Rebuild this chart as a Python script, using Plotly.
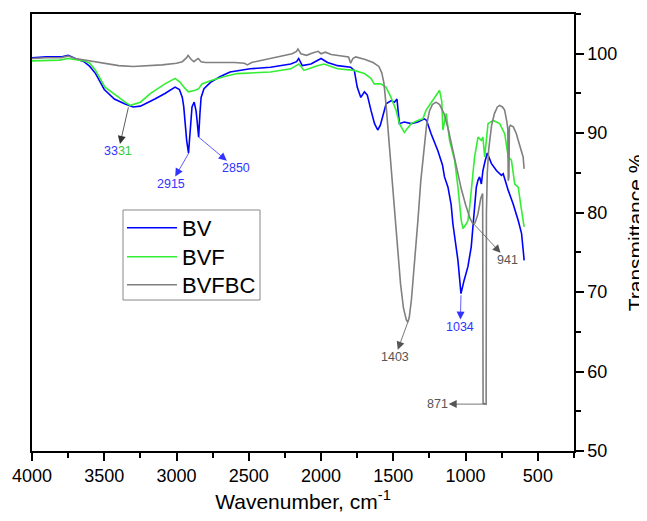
import plotly.graph_objects as go

# ---- data (wavenumber cm-1, transmittance %) ----
bv_x = [4000, 3900, 3800, 3750, 3700, 3640, 3600, 3560, 3500, 3430, 3360, 3300, 3250, 3200, 3150,
        3080, 3010, 2980, 2960, 2950, 2930, 2917, 2905, 2893, 2878, 2865, 2858, 2847, 2838, 2830,
        2810, 2765, 2700, 2630, 2490, 2350, 2210, 2170, 2155, 2130, 2070, 2025, 2000, 1955, 1885,
        1795, 1770, 1750, 1725, 1700, 1680, 1655, 1630, 1608, 1590, 1575, 1550, 1515, 1493, 1475,
        1458, 1425, 1377, 1330, 1285, 1270, 1250, 1238, 1192, 1160, 1146, 1122, 1100, 1088, 1053,
        1032, 1010, 984, 961, 945, 926, 914, 903, 891, 880, 865, 850, 822, 787, 752, 740, 705,
        671, 636, 613, 600, 595]
bv_y = [99.5, 99.6, 99.6, 99.8, 99.4, 99.0, 98.4, 97.5, 95.5, 94.3, 93.7, 93.3, 93.4, 93.8, 94.3,
        95.0, 95.8, 95.5, 94.5, 93.3, 89.1, 87.5, 90.5, 93.3, 93.9, 92.8, 91.6, 89.5, 92.5, 94.5,
        95.6, 96.4, 97.1, 97.7, 98.1, 98.3, 98.7, 99.0, 99.4, 98.5, 98.7, 99.2, 99.4, 98.9, 98.5,
        98.3, 97.9, 95.8, 94.5, 95.2, 94.8, 92.9, 91.2, 90.4, 91.0, 92.0, 93.7, 94.1, 93.9, 94.3,
        91.2, 91.4, 91.2, 91.4, 91.8, 91.6, 90.4, 89.9, 87.8, 86.0, 84.5, 83.2, 81.0, 78.6, 74.0,
        69.8, 71.5, 73.2, 75.7, 79.0, 83.2, 84.1, 84.5, 83.6, 85.3, 86.5, 87.5, 86.2, 85.3, 84.7, 84.9, 82.8,
        81.1, 79.0, 77.4, 75.0, 74.0]

bvf_x = [4000, 3900, 3810, 3750, 3640, 3600, 3560, 3495, 3425, 3355, 3320, 3250, 3180, 3080, 3010,
         2975, 2940, 2917, 2870, 2847, 2824, 2766, 2674, 2580, 2350, 2210, 2153, 2118, 2025, 1980,
         1886, 1771, 1700, 1655, 1632, 1586, 1551, 1516, 1481, 1458, 1424, 1377, 1331, 1296, 1273,
         1238, 1204, 1180, 1165, 1157, 1134, 1111, 1076, 1053, 1030, 1018, 995, 984, 972, 938, 914,
         891, 880, 868, 845, 810, 764, 729, 705, 683, 660, 636, 613, 595]
bvf_y = [99.1, 99.2, 99.2, 99.4, 99.1, 98.8, 97.9, 95.8, 94.8, 93.9, 93.5, 93.9, 95.0, 96.2, 96.9,
         96.4, 95.6, 95.2, 95.4, 95.6, 96.2, 96.6, 97.1, 97.5, 97.7, 98.1, 98.7, 97.9, 98.5, 98.7,
         98.1, 97.9, 97.5, 96.9, 96.2, 96.2, 95.8, 94.5, 92.9, 91.2, 90.1, 91.2, 91.6, 91.8, 92.9,
         93.9, 94.8, 95.4, 94.0, 90.4, 92.5, 89.1, 86.6, 83.2, 79.0, 78.0, 78.6, 79.0, 80.7, 87.0, 89.5,
         89.1, 89.5, 87.0, 91.2, 91.6, 91.2, 89.9, 87.0, 86.6, 83.6, 83.2, 80.3, 78.2]

bvfbc_x = [4000, 3900, 3800, 3750, 3700, 3600, 3500, 3400, 3300, 3200, 3100, 3000, 2960, 2930, 2920,
           2900, 2880, 2860, 2850, 2830, 2800, 2700, 2600, 2530, 2510, 2480, 2400, 2300, 2200, 2170,
           2160, 2140, 2100, 2060, 2020, 2000, 1970, 1930, 1850, 1810, 1795, 1780, 1760, 1700, 1640,
           1600, 1580, 1565, 1550, 1540, 1530, 1510, 1490, 1470, 1450, 1430, 1410, 1400, 1390, 1375,
           1350, 1330, 1310, 1290, 1270, 1250, 1230, 1205, 1180, 1150, 1120, 1090, 1060, 1030, 1000,
           970, 950, 935, 915, 895, 882, 879, 858, 856, 850, 840, 820, 800, 780, 765, 745, 730, 715,
           708, 705, 700, 697, 690, 670, 650, 636, 620, 602, 595]
bvfbc_y = [99.4, 99.5, 99.5, 99.7, 99.4, 99.1, 98.8, 98.5, 98.4, 98.5, 98.6, 98.8, 99.0, 99.5, 99.8,
           99.3, 99.0, 99.3, 99.4, 99.0, 98.9, 98.9, 98.9, 98.8, 98.6, 98.9, 99.2, 99.6, 100.0, 100.3,
           100.6, 100.0, 99.8, 100.1, 100.3, 100.0, 100.2, 99.9, 99.7, 99.6, 98.8, 99.4, 99.6, 99.3, 98.9,
           98.4, 97.6, 96.3, 93.5, 91.2, 90.0, 85.0, 80.0, 75.0, 71.0, 68.0, 66.5, 66.2, 66.8, 69.0,
           74.0, 79.0, 84.0, 88.0, 91.0, 92.8, 93.6, 93.9, 93.6, 92.5, 90.5, 88.0, 85.5, 83.0, 81.0,
           79.3, 78.6, 78.7, 79.8, 81.8, 82.4, 56.0, 55.9, 80.0, 85.0, 88.0, 91.0, 92.5, 93.3, 93.5, 93.3, 92.9, 91.5,
           90.5, 84.0, 84.5, 90.8, 91.0, 90.8, 90.0, 89.1, 88.1, 87.0, 85.5]

series_names = ["BV", "BVF", "BVFBC"]

# peak labels: (label, peak wavenumber, peak value)
peak_labels = ["3331", "2915", "2850", "1403", "1034", "941", "871"]
peak_x = [3333, 2915, 2847, 1400, 1032, 947, 865]
peak_y = [93.25, 87.5, 89.5, 66.2, 69.6, 78.65, 55.9]

BLUE = "#0000ff"
GREEN = "#33ee33"
GREY = "#808080"
FONT = "Liberation Sans, Arial, sans-serif"

legend_ids = ["legend", "legend2", "legend3"]
legend_y = [0.5103, 0.4439, 0.3799]

fig = go.Figure()
for i, (name, xs, ys, col) in enumerate([(series_names[0], bv_x, bv_y, BLUE),
                                         (series_names[1], bvf_x, bvf_y, GREEN),
                                         (series_names[2], bvfbc_x, bvfbc_y, GREY)]):
    fig.add_trace(go.Scatter(x=xs, y=ys, mode="lines", name=name, legend=legend_ids[i],
                             line=dict(color=col, width=1.6)))

# annotation styling: label centre positions (data coords) and colours
label_pos = [(3403, 87.7), (3039, 83.6), (2590, 85.6), (1488, 61.8), (1037, 65.6), (710, 74.0), (1193, 55.9)]
arrow_col = ["#333333", "#3333ff", "#3333ff", "#555555", "#3333ff", "#555555", "#555555"]
label_col = ["#3333ff", "#3333ff", "#3333ff", "#555555", "#3333ff", "#555555", "#555555"]

for i, lab in enumerate(peak_labels):
    if lab == "3331":
        txt = '<span style="color:#3333ff">33</span><span style="color:#33cc33">31</span>'
    else:
        txt = lab
    lx, ly = label_pos[i]
    fig.add_annotation(x=peak_x[i], y=peak_y[i], ax=lx, ay=ly, xref="x", yref="y",
                       axref="x", ayref="y", text=txt, showarrow=True, arrowside="start",
                       arrowhead=2, startarrowhead=2, arrowsize=2.0, startarrowsize=2.0,
                       arrowwidth=0.8, arrowcolor=arrow_col[i],
                       standoff=0, startstandoff=0, borderpad=0,
                       font=dict(family=FONT, size=12.5, color=label_col[i]))

# y-axis title (right side, rotated)
fig.add_annotation(x=1.114, y=0.5, xref="paper", yref="paper", text="Transmittance %",
                   textangle=-90, showarrow=False, xanchor="center", yanchor="middle",
                   font=dict(family=FONT, size=21, color="black"))

# legend frame
fig.add_shape(type="rect", xref="paper", yref="paper",
              x0=0.1679, x1=0.4207, y0=0.3455, y1=0.5515,
              line=dict(color="#888888", width=1), fillcolor="rgba(0,0,0,0)", layer="above")

leg_common = dict(x=0.166, xanchor="left", yanchor="middle", borderwidth=0,
                  bgcolor="rgba(0,0,0,0)", font=dict(family=FONT, size=22, color="black"),
                  itemwidth=50)

fig.update_layout(
    width=639, height=513,
    margin=dict(l=24, r=73, t=6, b=70, autoexpand=False),
    paper_bgcolor="white", plot_bgcolor="white",
    font=dict(family=FONT, color="black"),
    showlegend=True,
    legend=dict(y=legend_y[0], **leg_common),
    legend2=dict(y=legend_y[1], **leg_common),
    legend3=dict(y=legend_y[2], **leg_common),
)
fig.update_xaxes(
    range=[4000, 250], tickmode="linear", tick0=500, dtick=500, automargin=False,
    ticks="outside", ticklen=8, tickwidth=1.5, tickcolor="black",
    minor=dict(ticks="outside", ticklen=5, tickwidth=1.5, tickcolor="black", dtick=250, tick0=250),
    showline=True, linecolor="black", linewidth=1.5, mirror=True,
    showgrid=False, zeroline=False,
    tickfont=dict(family=FONT, size=18, color="black"),
    title=dict(text="Wavenumber, cm<sup>-1</sup>", font=dict(family=FONT, size=21, color="black"), standoff=9),
)
fig.update_yaxes(
    range=[50, 105], side="right", tickmode="linear", tick0=50, dtick=10, automargin=False,
    ticks="outside", ticklen=8, tickwidth=1.5, tickcolor="black",
    minor=dict(ticks="outside", ticklen=5, tickwidth=1.5, tickcolor="black", dtick=5, tick0=50),
    showline=True, linecolor="black", linewidth=1.5, mirror=True,
    showgrid=False, zeroline=False,
    tickfont=dict(family=FONT, size=18, color="black"),
)

fig.write_html("out.html")
